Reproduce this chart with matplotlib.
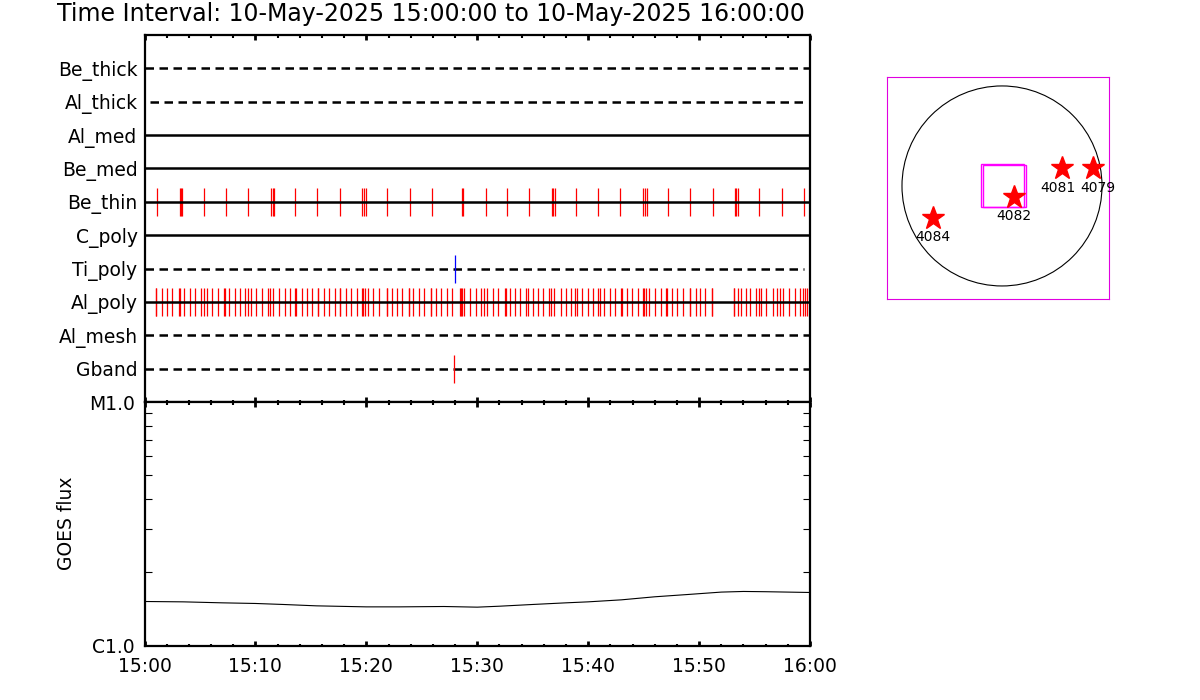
import matplotlib
matplotlib.use("Agg")
import matplotlib.pyplot as plt
from matplotlib.ticker import FixedLocator, FuncFormatter, NullFormatter
from matplotlib.patches import Circle, Rectangle

# ---- data (time in minutes after 15:00 UT) ----
channels = ["Be_thick", "Al_thick", "Al_med", "Be_med", "Be_thin",
            "C_poly", "Ti_poly", "Al_poly", "Al_mesh", "Gband"]
line_styles = ["dashed", "dashed", "solid", "solid", "solid",
               "solid", "dashed", "solid", "dashed", "dashed"]
line_start = [0, 0.5, 0, 0, 0, 0, 0, 0, 0, 0]
line_end = [60, 59.6, 60, 60, 60, 60, 59.5, 60, 60, 60]

be_thin_times = [1.15, 3.23, 3.32, 3.41, 5.39, 7.38, 9.36, 11.43, 11.56, 11.70,
                 13.60, 15.58, 17.65, 19.64, 19.82, 20.00, 21.89, 23.96, 25.95,
                 28.60, 28.74, 30.76, 32.71, 34.69, 36.77, 36.86, 37.04, 38.93,
                 40.91, 42.90, 44.97, 45.15, 45.33, 47.23, 49.21, 51.28, 53.27,
                 53.36, 53.54, 55.43, 57.50, 59.49]

al_poly_times = [1.01, 1.07, 1.55, 2.00, 2.51, 3.08, 3.20, 3.59, 4.08, 4.58,
                 5.07, 5.34, 5.61, 6.06, 6.60, 7.14, 7.28, 7.62, 8.13, 8.61,
                 9.09, 9.30, 9.60, 10.08, 10.62, 11.11, 11.34, 11.61, 12.13,
                 12.64, 13.12, 13.57, 13.69, 14.23, 14.62, 15.10, 15.62, 15.68,
                 16.16, 16.66, 17.15, 17.60, 17.66, 18.14, 18.62, 19.13, 19.58,
                 19.73, 19.91, 20.15, 20.63, 21.14, 21.84, 21.90, 22.29, 22.74,
                 23.24, 23.82, 23.88, 24.24, 24.72, 25.20, 25.80, 25.86, 26.25,
                 26.73, 27.25, 27.70, 28.42, 28.54, 28.65, 28.83, 29.35, 29.85,
                 30.37, 30.58, 30.85, 31.42, 31.90, 32.48, 32.59, 32.98, 33.43,
                 33.88, 34.40, 34.58, 35.00, 35.45, 35.93, 36.44, 36.68, 36.89,
                 37.55, 37.98, 38.48, 38.84, 38.99, 39.47, 39.96, 40.46, 40.91,
                 41.04, 41.46, 41.97, 42.45, 42.96, 43.02, 43.50, 43.98, 44.49,
                 44.92, 45.06, 45.24, 45.49, 46.03, 46.57, 47.04, 47.10, 47.56,
                 48.04, 48.58, 49.15, 49.21, 49.70, 50.08, 50.56, 51.14, 51.20,
                 53.12, 53.18, 53.51, 53.75, 54.20, 54.62, 55.13, 55.40, 55.61,
                 56.06, 56.64, 57.05, 57.27, 57.59, 58.11, 58.62, 59.10, 59.34,
                 59.55, 59.70]

ti_poly_times = [28.02]
gband_times = [27.93]

goes_min = [0, 3.5, 7, 10, 12.5, 15.5, 20, 23, 27, 30, 32, 35, 38, 40, 43,
            46, 49, 52, 54, 56, 60]
goes_flux = [1.516e-6, 1.511e-6, 1.497e-6, 1.488e-6, 1.474e-6, 1.455e-6,
             1.441e-6, 1.441e-6, 1.446e-6, 1.437e-6, 1.450e-6, 1.474e-6,
             1.497e-6, 1.511e-6, 1.540e-6, 1.585e-6, 1.620e-6, 1.657e-6,
             1.667e-6, 1.663e-6, 1.651e-6]

# active regions (arcsec from disk centre)
ar_names = ["4082", "4081", "4079", "4084"]
ar_x = [118, 579, 876, -665]
ar_y = [-103, 170, 170, -304]
fov_x0 = [-199, -180]
fov_y0 = [-199, -203]
fov_size = [407, 408]
sun_radius = 960

title = "Time Interval: 10-May-2025 15:00:00 to 10-May-2025 16:00:00"

plt.rcParams["font.family"] = ["DejaVu Sans"]
fs = 13.5

fig = plt.figure(figsize=(12, 7), dpi=100)
fig.text(57 / 1200, 1 - 21 / 700, title, fontsize=17, va="baseline", ha="left")


def time_ticks(ax, labels):
    ax.set_xlim(0, 60)
    ax.xaxis.set_major_locator(FixedLocator(range(0, 61, 10)))
    ax.xaxis.set_minor_locator(FixedLocator(range(0, 61, 2)))
    ax.tick_params(axis="x", which="major", direction="in", length=3.8, width=2,
                   top=True, bottom=True, labelsize=fs, pad=8)
    ax.tick_params(axis="x", which="minor", direction="in", length=1.8, width=1.5,
                   top=True, bottom=True)
    if labels:
        ax.xaxis.set_major_formatter(
            FuncFormatter(lambda m, p: "%d:%02d" % (15 + int(m) // 60, int(m) % 60)))
    else:
        ax.xaxis.set_major_formatter(NullFormatter())
    for s in ax.spines.values():
        s.set_linewidth(1.6)


# ---- top panel: filter channels ----
ax1 = fig.add_axes([144.5 / 1200, 1 - 402 / 700, 665.5 / 1200, 367 / 700])
ax1.set_ylim(0, 11)
time_ticks(ax1, False)
rows = [10 - i for i in range(len(channels))]
ax1.set_yticks(rows)
ax1.set_yticklabels(channels)
ax1.tick_params(axis="y", length=0, labelsize=fs, pad=5)

for y, st, x0, x1 in zip(rows, line_styles, line_start, line_end):
    ln, = ax1.plot([x0, x1], [y, y], color="black", lw=1.8, zorder=3,
                   solid_capstyle="butt")
    if st == "dashed":
        ln.set_dashes((3.4, 2.2))

h = 0.42
ax1.vlines(be_thin_times, rows[4] - h, rows[4] + h, color="red", lw=0.9, zorder=2)
ax1.vlines(al_poly_times, rows[7] - h, rows[7] + h, color="red", lw=0.9, zorder=2)
ax1.vlines(ti_poly_times, rows[6] - h, rows[6] + h, color="#0000ff", lw=0.9, zorder=4)
ax1.vlines(gband_times, rows[9] - h, rows[9] + h, color="red", lw=0.9, zorder=4)

# ---- bottom panel: GOES flux ----
ax2 = fig.add_axes([144.5 / 1200, 1 - 645.5 / 700, 665.5 / 1200, 243.5 / 700])
time_ticks(ax2, True)
ax2.set_yscale("log")
ax2.set_ylim(1e-6, 1e-5)
ax2.yaxis.set_major_locator(FixedLocator([1e-6, 1e-5]))
ax2.yaxis.set_major_formatter(FuncFormatter(lambda v, p: "C1.0" if v < 5e-6 else "M1.0"))
ax2.yaxis.set_minor_locator(FixedLocator([k * 1e-6 for k in range(2, 10)]))
ax2.yaxis.set_minor_formatter(NullFormatter())
ax2.tick_params(axis="y", which="major", direction="in", length=0,
                labelsize=fs, pad=7)
ax2.tick_params(axis="y", which="minor", direction="in", length=5, width=0.8,
                left=True, right=True)
ax2.plot(goes_min, goes_flux, color="black", lw=0.8)
ax2.set_ylabel("GOES flux", fontsize=fs)
ax2.yaxis.set_label_coords(-0.103, 0.5)

# ---- right panel: solar disk ----
ax3 = fig.add_axes([887.3 / 1200, 1 - 299.3 / 700, 222 / 1200, 222 / 700])
ax3.set_xlim(-1101, 1030)
ax3.set_ylim(-1088, 1043)
ax3.set_xticks([])
ax3.set_yticks([])
for s in ax3.spines.values():
    s.set_edgecolor("#e000e0")
    s.set_linewidth(0.8)
ax3.add_patch(Circle((0, 0), sun_radius, fill=False, ec="black", lw=0.8))
for x0, y0, sz in zip(fov_x0, fov_y0, fov_size):
    ax3.add_patch(Rectangle((x0, y0), sz, sz, fill=False, ec="#ff00ff", lw=1))
ax3.plot(ar_x, ar_y, linestyle="none", marker="*", color="red", ms=17, mec="red")
label_dx = [0, -3, 3, 0]
for name, x, y, dx in zip(ar_names, ar_x, ar_y, label_dx):
    ax3.annotate(name, (x, y), xytext=(dx, -14), textcoords="offset points",
                 ha="center", va="center", fontsize=10)

fig.savefig("out.png", dpi=100)
